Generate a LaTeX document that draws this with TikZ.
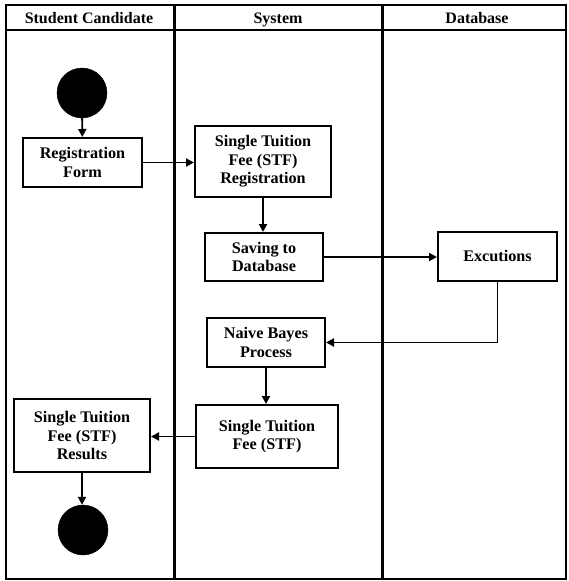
\documentclass[tikz,border=0pt]{standalone}
\usepackage{fontspec}
\setmainfont{Liberation Serif}
\usetikzlibrary{arrows.meta}
\begin{document}
\begin{tikzpicture}[x=1pt,y=-1pt,
  lane/.style={line width=1.6pt},
  divider/.style={line width=3pt},
  box/.style={draw, line width=2pt, inner sep=0pt, align=center,
    font=\fontsize{16.2}{18.5}\selectfont\bfseries},
  dot/.style={circle, fill=black, draw=black, minimum size=50pt, inner sep=0pt},
  hdr/.style={font=\fontsize{16}{18}\selectfont\bfseries, anchor=base},
  flow/.style={line width=1.9pt, -{Triangle[length=8pt,width=8pt]}}]
\useasboundingbox (0,0) rectangle (569,581);
% frame and lanes
\draw[lane] (6,5) rectangle (566,579);
\draw[lane] (6,30) -- (566,30);
\draw[divider] (174,5) -- (174,579);
\draw[divider] (382,5) -- (382,579);
\node[hdr] (h1) at (89,23) {Student Candidate};
\node[hdr] (h2) at (278,23) {System};
\node[hdr] (h3) at (477,23) {Database};
% nodes
\node[dot] (start) at (82,93) {};
\node[box, minimum width=119pt, minimum height=49pt] (regform) at (82.5,162.5) {Registration\\Form};
\node[box, minimum width=136pt, minimum height=71pt] (stfreg) at (263,161.5) {Single Tuition\\Fee (STF)\\Registration};
\node[box, minimum width=118pt, minimum height=48pt] (saving) at (264,257) {Saving to\\Database};
\node[box, minimum width=119pt, minimum height=49pt] (exec) at (497.5,256) {Excutions};
\node[box, minimum width=118pt, minimum height=49pt] (naive) at (266,342.5) {Naive Bayes\\Process};
\node[box, minimum width=142pt, minimum height=63pt] (stf) at (267,436.5) {Single Tuition\\Fee (STF)};
\node[box, minimum width=136pt, minimum height=73pt] (results) at (82,435.5) {Single Tuition\\Fee (STF)\\Results};
\node[dot] (end) at (83,530) {};
% connectors
\draw[flow] (start) -- (regform);
\draw[flow] (regform.east) -- (regform.east -| stfreg.west);
\draw[flow] (stfreg.south) -- (stfreg.south |- saving.north);
\draw[flow] (saving.east) -- (saving.east -| exec.west);
\draw[flow] (exec.south) |- (naive.east);
\draw[flow] (naive.south) -- (naive.south |- stf.north);
\draw[flow] (stf.west) -- (stf.west -| results.east);
\draw[flow] (results.south) -- (results.south |- end.north);
\end{tikzpicture}
\end{document}
